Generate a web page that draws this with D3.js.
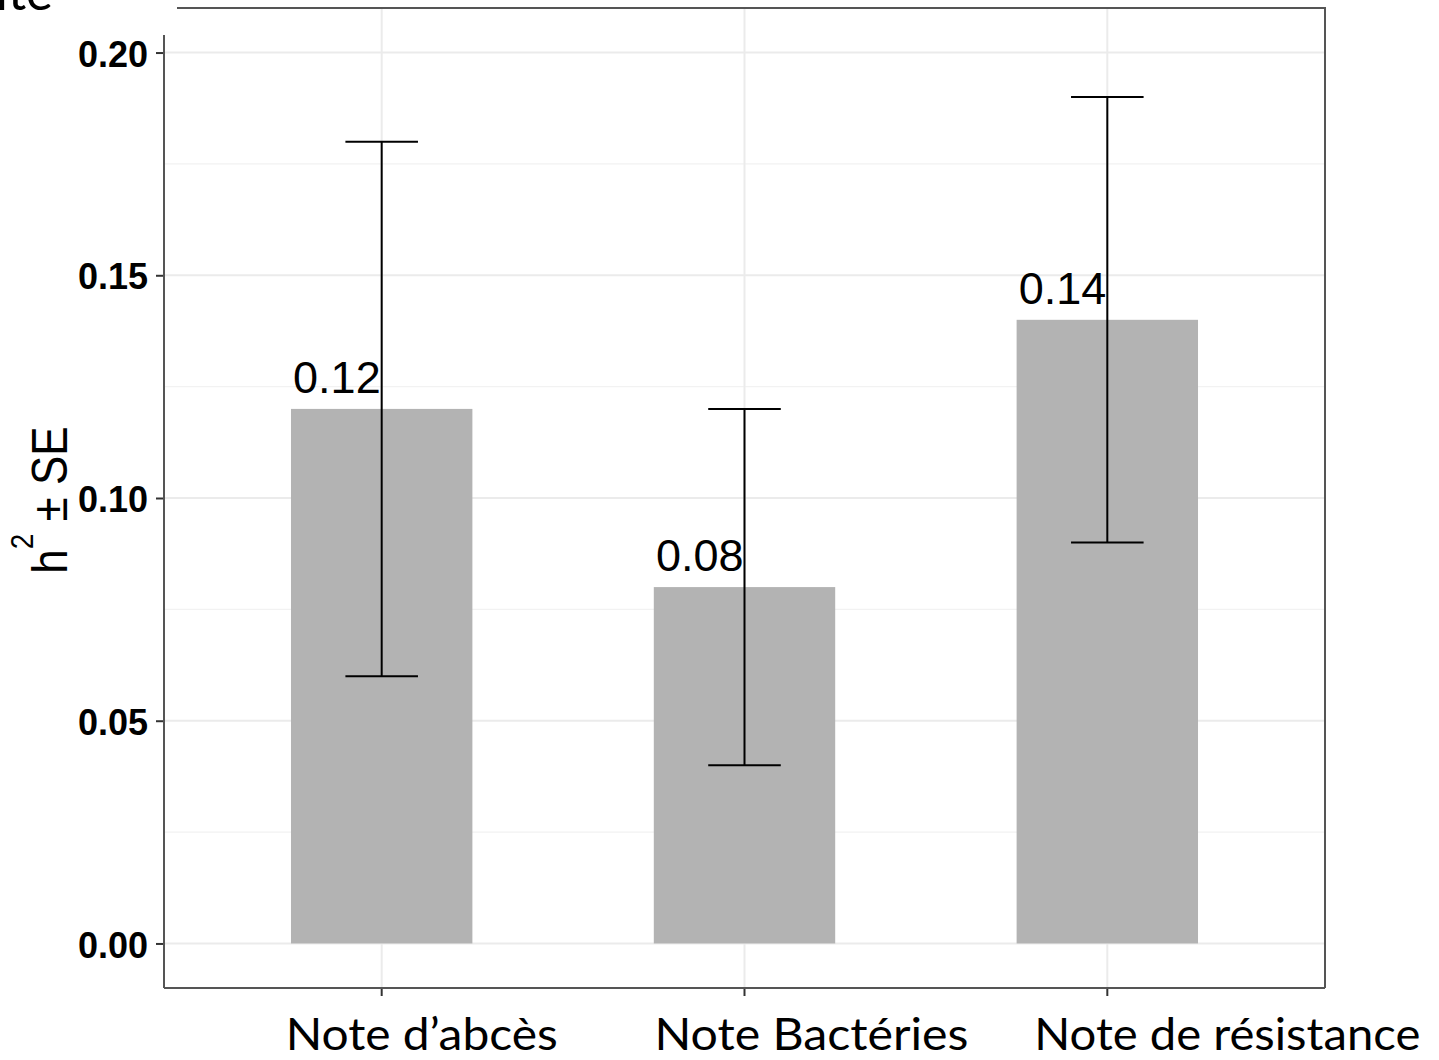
<!DOCTYPE html>
<html>
<head>
<meta charset="utf-8">
<script src="https://cdn.jsdelivr.net/npm/d3@7"></script>
<style>
  html, body { margin: 0; padding: 0; background: #ffffff; }
  svg { display: block; }
</style>
</head>
<body>
<svg id="chart" width="1439" height="1060"></svg>
<script>
// ---- data ----
const categories = ["Note d\u2019abc\u00e8s", "Note Bact\u00e9ries", "Note de r\u00e9sistance"];
const h2Values = [0.12, 0.08, 0.14];
const lowerValues = [0.06, 0.04, 0.09];
const upperValues = [0.18, 0.12, 0.19];
const valueLabels = ["0.12", "0.08", "0.14"];
const yTicks = [0.00, 0.05, 0.10, 0.15, 0.20];
const yMinorTicks = [0.025, 0.075, 0.125, 0.175];
const yTitle = "h";
const titleFragment = "it\u00e9";

(function () {
// ---- layout ----
const pLeft = 164, pRight = 1325, pTop = 8, pBottom = 988;
const xLabelShift = [40, 67, 120];
const xLabelWidth = [272, 314, 386];

const svg = d3.select("#chart");

const x = d3.scaleBand().domain(categories).range([pLeft, pRight]).paddingInner(0).paddingOuter(0.1);
const y = d3.scaleLinear().domain([-0.01, 0.21]).range([pBottom, pTop]);
const step = x.step();

// grid
const grid = svg.append("g");
grid.selectAll("line.minor").data(yMinorTicks).enter().append("line")
  .attr("x1", pLeft).attr("x2", pRight)
  .attr("y1", d => y(d)).attr("y2", d => y(d))
  .attr("stroke", "#f2f2f2").attr("stroke-width", 1.2);
grid.selectAll("line.major").data(yTicks).enter().append("line")
  .attr("x1", pLeft).attr("x2", pRight)
  .attr("y1", d => y(d)).attr("y2", d => y(d))
  .attr("stroke", "#ebebeb").attr("stroke-width", 2);
grid.selectAll("line.vmajor").data(categories).enter().append("line")
  .attr("x1", d => x(d) + x.bandwidth() / 2).attr("x2", d => x(d) + x.bandwidth() / 2)
  .attr("y1", pTop).attr("y2", pBottom)
  .attr("stroke", "#ebebeb").attr("stroke-width", 2);

// bars
const barW = step * 0.5;
svg.selectAll("rect.bar").data(categories).enter().append("rect")
  .attr("x", d => x(d) + x.bandwidth() / 2 - barW / 2)
  .attr("width", barW)
  .attr("y", (d, i) => y(h2Values[i]))
  .attr("height", (d, i) => y(0) - y(h2Values[i]))
  .attr("fill", "#b3b3b3");

// error bars
const capW = step * 0.2;
const eb = svg.append("g").attr("stroke", "#000").attr("stroke-width", 2);
categories.forEach((c, i) => {
  const cx = x(c) + x.bandwidth() / 2;
  eb.append("line").attr("x1", cx).attr("x2", cx).attr("y1", y(lowerValues[i])).attr("y2", y(upperValues[i]));
  eb.append("line").attr("x1", cx - capW / 2).attr("x2", cx + capW / 2).attr("y1", y(lowerValues[i])).attr("y2", y(lowerValues[i]));
  eb.append("line").attr("x1", cx - capW / 2).attr("x2", cx + capW / 2).attr("y1", y(upperValues[i])).attr("y2", y(upperValues[i]));
});

// value labels
svg.selectAll("text.val").data(categories).enter().append("text")
  .attr("x", d => x(d) + x.bandwidth() / 2 - 1)
  .attr("y", (d, i) => y(h2Values[i]) - 16)
  .attr("text-anchor", "end")
  .attr("font-family", "Liberation Sans, Arial, sans-serif")
  .attr("font-size", 45)
  .attr("fill", "#000")
  .text((d, i) => valueLabels[i]);

// y axis
const yAxis = d3.axisLeft(y).tickValues(yTicks).tickFormat(d3.format(".2f")).tickSize(8).tickPadding(8);
const ya = svg.append("g").attr("transform", `translate(${pLeft},0)`).call(yAxis);
ya.select(".domain").remove();
ya.selectAll(".tick line").attr("stroke", "#333").attr("stroke-width", 2);
ya.selectAll(".tick text").attr("font-family", "Liberation Sans, Arial, sans-serif")
  .attr("font-weight", "bold").attr("font-size", 36).attr("fill", "#000").attr("dy", "0.38em");

// x axis ticks
const xAxis = d3.axisBottom(x).tickSize(8).tickFormat("");
const xa = svg.append("g").attr("transform", `translate(0,${pBottom})`).call(xAxis);
xa.select(".domain").remove();
xa.selectAll(".tick line").attr("stroke", "#333").attr("stroke-width", 2);

// frame
const frame = svg.append("g").attr("stroke", "#555").attr("stroke-width", 2).attr("fill", "none");
frame.append("line").attr("x1", pLeft).attr("x2", pLeft).attr("y1", 35).attr("y2", pBottom);
frame.append("line").attr("x1", pLeft).attr("x2", pRight).attr("y1", pBottom).attr("y2", pBottom);
frame.append("line").attr("x1", pRight).attr("x2", pRight).attr("y1", pTop).attr("y2", pTop + 0 + (pBottom - pTop));
frame.append("line").attr("x1", 177).attr("x2", pRight + 1).attr("y1", pTop).attr("y2", pTop);

// x labels
svg.selectAll("text.xl").data(categories).enter().append("text")
  .attr("x", (d, i) => x(d) + x.bandwidth() / 2 + xLabelShift[i])
  .attr("y", 1050)
  .attr("text-anchor", "middle")
  .attr("font-family", "Lato, 'Open Sans', sans-serif")
  .attr("font-size", 45)
  .attr("textLength", (d, i) => xLabelWidth[i])
  .attr("lengthAdjust", "spacingAndGlyphs")
  .attr("fill", "#000")
  .text(d => d);

// y title
const yt = svg.append("text")
  .attr("transform", "translate(67,500) rotate(-90) scale(1,1.15)")
  .attr("text-anchor", "middle")
  .attr("font-family", "Liberation Sans, Arial, sans-serif")
  .attr("font-size", 44)
  .attr("fill", "#000");
yt.append("tspan").text(yTitle);
yt.append("tspan").attr("font-size", 28).attr("dy", -30).text("2");
yt.append("tspan").attr("dy", 30).text(" \u00b1 SE");

// top-left title fragment
svg.append("text")
  .attr("x", 53).attr("y", 10)
  .attr("text-anchor", "end")
  .attr("font-family", "Lato, 'Open Sans', sans-serif")
  .attr("font-size", 51)
  .attr("fill", "#000")
  .text(titleFragment);
})();
</script>
</body>
</html>
